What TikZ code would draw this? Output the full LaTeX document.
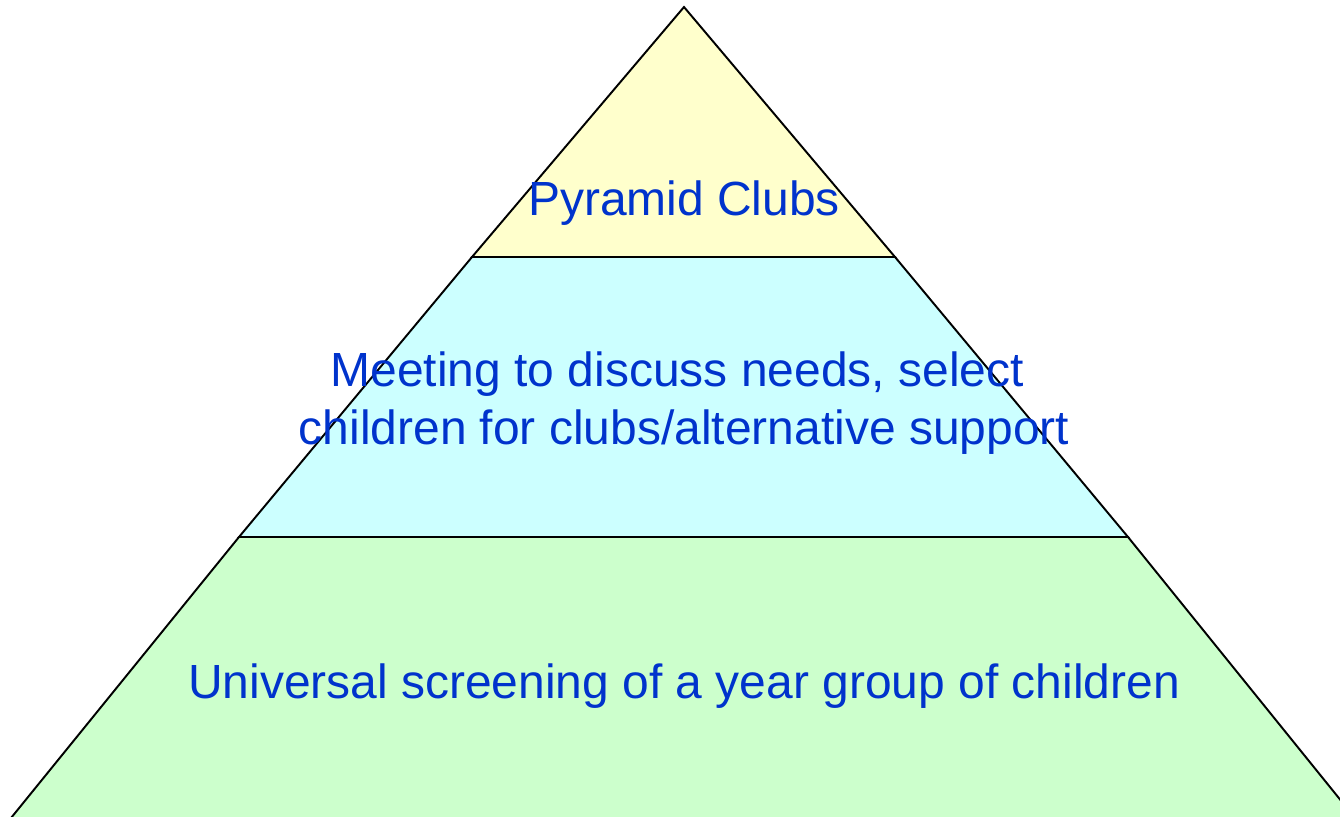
\documentclass[tikz,border=0pt]{standalone}
\usepackage{fontspec}
\setmainfont{Liberation Sans}
\usepackage{tikz}
\usetikzlibrary{positioning}

\definecolor{clubyellow}{HTML}{FFFFCC}
\definecolor{meetcyan}{HTML}{CCFFFF}
\definecolor{screengreen}{HTML}{CCFFCC}
\definecolor{labelblue}{HTML}{0033CC}

\tikzset{
  layer/.style={draw=black, line width=1.1pt, line join=miter},
  layertext/.style={text=labelblue, font=\fontsize{27.3}{33}\selectfont, align=center, inner sep=0pt}
}

\begin{document}
\begin{tikzpicture}[x=0.02cm, y=-0.02cm]

\useasboundingbox (0,0) rectangle (1340,816);
\clip (0,0) rectangle (1340,816);

% bottom layer
\filldraw[layer, fill=screengreen] (239,537) -- (1128,537) -- (1355,818) -- (11,818) -- cycle;
% middle layer
\filldraw[layer, fill=meetcyan] (472,257) -- (895,257) -- (1128,537) -- (239,537) -- cycle;
% top layer
\filldraw[layer, fill=clubyellow] (684,7) -- (895,257) -- (472,257) -- cycle;

\node at (684,203) [layertext] (clubs) {Pyramid Clubs};
\node at (684,403) [layertext] (meeting) {Meeting to discuss needs, select\hspace*{0.28em}\\children for clubs/alternative support};
\node at (684,686) [layertext] (screening) {Universal screening of a year group of children};

\end{tikzpicture}
\end{document}
